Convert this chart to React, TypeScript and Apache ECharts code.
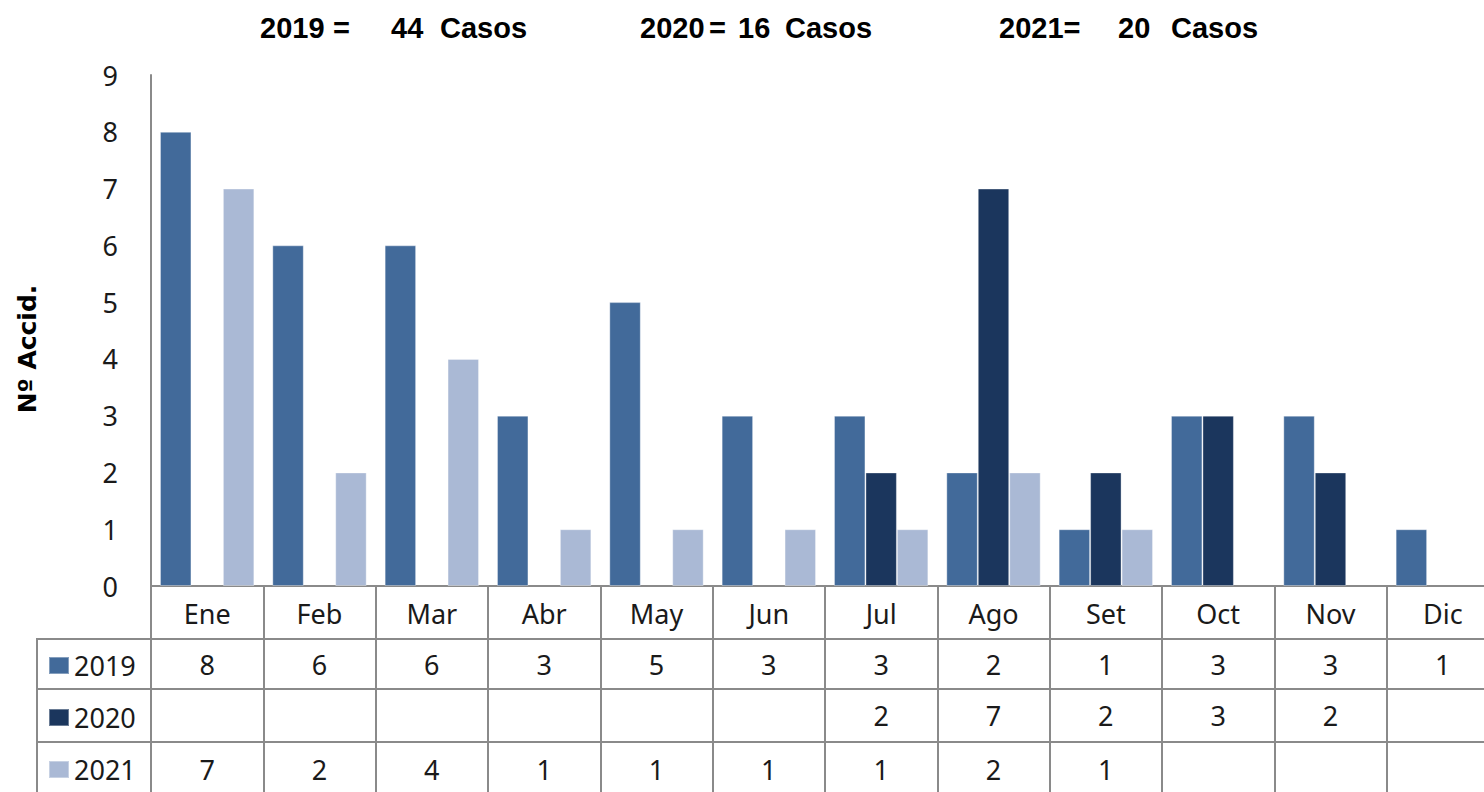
import React, { useEffect, useRef } from "react";
import * as echarts from "echarts";

const months = ["Ene", "Feb", "Mar", "Abr", "May", "Jun", "Jul", "Ago", "Set", "Oct", "Nov", "Dic"];
const years = ["2019", "2020", "2021"];
const v2019: (number | null)[] = [8, 6, 6, 3, 5, 3, 3, 2, 1, 3, 3, 1];
const v2020: (number | null)[] = [null, null, null, null, null, null, 2, 7, 2, 3, 2, null];
const v2021: (number | null)[] = [7, 2, 4, 1, 1, 1, 1, 2, 1, null, null, null];
const totals = [44, 16, 20];
const yAxisName = "Nº Accid.";
const colors = ["#426A9A", "#1B365D", "#AAB9D5"];

const GRID = "#8a8a8a";
const TXT = "#1a1a1a";
const FONT = "Noto Sans";

const cellText = (arr: (number | null)[]) => arr.map((v) => (v == null ? "" : String(v)));

export default function App() {
  const ref = useRef<HTMLDivElement>(null);
  useEffect(() => {
    if (!ref.current) return;
    const chart = echarts.init(ref.current, null, { renderer: "svg" });

    const rowAxis = (data: string[], offset: number, tickLen: number, margin: number) => ({
      type: "category",
      data,
      position: "bottom",
      offset,
      boundaryGap: true,
      axisLine: { show: true, onZero: false, lineStyle: { color: GRID, width: 2 } },
      axisTick: { show: true, interval: 0, length: tickLen, lineStyle: { color: GRID, width: 2 } },
      axisLabel: { interval: 0, margin, fontSize: 27, lineHeight: 27, color: TXT, fontFamily: FONT },
      splitLine: { show: false },
    });

    const seriesData = [v2019, v2020, v2021];

    const titleParts: any[] = [];
    const titleLayout: [number, string][][] = [
      [
        [260, years[0]],
        [333, "="],
        [391, String(totals[0])],
        [440, "Casos"],
      ],
      [
        [640, years[1]],
        [709, "="],
        [738, String(totals[1])],
        [785, "Casos"],
      ],
      [
        [999, years[2] + "="],
        [1118, String(totals[2])],
        [1171, "Casos"],
      ],
    ];
    titleLayout.forEach((pieces) => {
      pieces.forEach(([x, t]) => {
        titleParts.push({
          type: "text",
          x,
          y: 28,
          style: {
            text: t,
            fontSize: 29,
            fontWeight: "bold",
            fontFamily: "Liberation Sans",
            fill: "#000",
            verticalAlign: "middle",
          },
        });
      });
    });

    const lineStyle = { stroke: GRID, lineWidth: 2 };
    const tableLeft = [
      { type: "line", shape: { x1: 37, y1: 639, x2: 37, y2: 800 }, style: lineStyle },
      { type: "line", shape: { x1: 36, y1: 639, x2: 152, y2: 639 }, style: lineStyle },
      { type: "line", shape: { x1: 36, y1: 689, x2: 152, y2: 689 }, style: lineStyle },
      { type: "line", shape: { x1: 36, y1: 742, x2: 152, y2: 742 }, style: lineStyle },
    ];

    const yName = {
      type: "text",
      x: 27,
      y: 349,
      rotation: Math.PI / 2,
      style: {
        text: yAxisName,
        fontSize: 25,
        fontWeight: "bold",
        fontFamily: "DejaVu Sans",
        fill: "#000",
        align: "center",
        verticalAlign: "middle",
      },
    };

    chart.setOption({
      animation: false,
      backgroundColor: "#ffffff",
      grid: { left: 151, top: 75, bottom: 206, right: -15, containLabel: false, outerBoundsMode: "none" },
      legend: {
        data: years,
        orient: "vertical",
        left: 48,
        top: 652,
        padding: 0,
        itemWidth: 20,
        itemHeight: 17,
        itemGap: 25,
        selectedMode: false,
        icon: "rect",
        textStyle: { fontSize: 27, lineHeight: 27, color: TXT, fontFamily: FONT },
      },
      xAxis: [
        {
          type: "category",
          data: months,
          position: "bottom",
          boundaryGap: true,
          axisLine: { show: true, onZero: false, lineStyle: { color: GRID, width: 2 } },
          axisTick: { show: true, interval: 0, length: 53, lineStyle: { color: GRID, width: 2 } },
          axisLabel: { interval: 0, margin: 14, fontSize: 27, lineHeight: 27, color: TXT, fontFamily: FONT },
          splitLine: { show: false },
        },
        rowAxis(cellText(v2019), 53, 50, 12),
        rowAxis(cellText(v2020), 103, 53, 13),
        rowAxis(cellText(v2021), 156, 60, 14),
      ],
      yAxis: {
        type: "value",
        min: 0,
        max: 9,
        interval: 1,
        axisLine: { show: true, lineStyle: { color: GRID, width: 2 } },
        axisTick: { show: false },
        splitLine: { show: false },
        axisLabel: { margin: 33, fontSize: 27, color: TXT, fontFamily: FONT },
      },
      series: years.map((y, i) => ({
        name: y,
        type: "bar",
        xAxisIndex: 0,
        yAxisIndex: 0,
        data: seriesData[i],
        barGap: "0%",
        barCategoryGap: "16%",
        itemStyle: { color: colors[i], borderColor: "rgba(255,255,255,0.35)", borderWidth: 1 },
      })),
      graphic: [...titleParts, yName, ...tableLeft],
    });

    return () => chart.dispose();
  }, []);

  return (
    <div
      ref={ref}
      style={{ position: "fixed", left: 0, top: 0, width: 1484, height: 792, background: "#fff" }}
    />
  );
}
